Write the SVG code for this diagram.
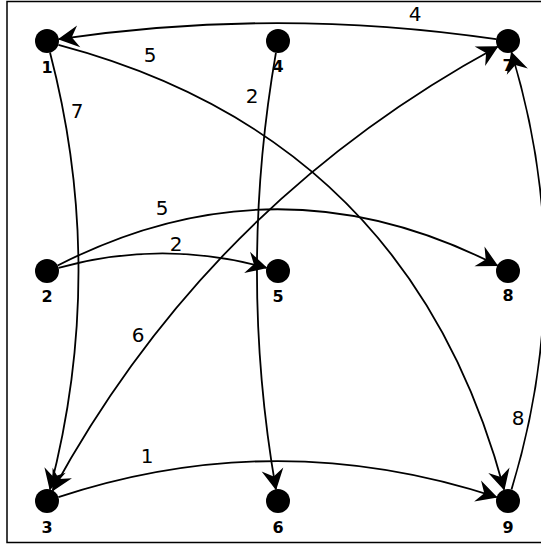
<svg xmlns="http://www.w3.org/2000/svg" width="541" height="545" viewBox="0 0 541 545">
<style>
.frame{fill:none;stroke:#000;stroke-width:1.5}
.node circle{fill:#000}
.node text{font-family:"DejaVu Sans",sans-serif;font-weight:bold;font-size:16px;text-anchor:middle;fill:#000}
.edge{fill:none;stroke:#000;stroke-width:1.8}
.elabel{font-family:"DejaVu Sans",sans-serif;font-size:20px;text-anchor:middle;fill:#000}
</style>
<defs>
<marker id="ah" markerUnits="userSpaceOnUse" orient="auto" markerWidth="26" markerHeight="26" viewBox="-23 -13 26 26" refX="0" refY="0" overflow="visible">
<path d="M1,0 L-20,-11 L-13,0 L-20,11 Z" fill="#000"/>
</marker>
<marker id="as" markerUnits="userSpaceOnUse" orient="auto-start-reverse" markerWidth="26" markerHeight="26" viewBox="-23 -13 26 26" refX="0" refY="0" overflow="visible">
<path d="M1,0 L-20,-11 L-13,0 L-20,11 Z" fill="#000"/>
</marker>
</defs>
<rect class="frame" x="7" y="1.5" width="545" height="541"/>
<g id="edges">
<path class="edge" d="M496.1,39.2 Q277.5,7 58.9,39.2" marker-end="url(#ah)"/>
<path class="edge" d="M58.4,44.9 Q410,138 504.1,489.6" marker-end="url(#ah)"/>
<path class="edge" d="M50,52.6 Q107,271 50,489.4" marker-end="url(#ah)"/>
<path class="edge" d="M275.9,52.8 Q238,271 275.9,489.2" marker-end="url(#ah)"/>
<path class="edge" d="M57.7,265.5 Q277.5,153 497.3,265.5" marker-end="url(#ah)"/>
<path class="edge" d="M58.6,267.8 Q162.5,239 266.4,267.8" marker-end="url(#ah)"/>
<path class="edge" d="M52.7,490.5 Q209.5,203 497.5,46.7" marker-start="url(#as)" marker-end="url(#as)"/>
<path class="edge" d="M511.5,489.5 Q578,271 511.5,52.5" marker-end="url(#ah)"/>
<path class="edge" d="M58.4,497.2 Q277.5,425 496.6,497.2" marker-end="url(#ah)"/>
<text class="elabel" x="415" y="21">4</text>
<text class="elabel" x="150" y="62">5</text>
<text class="elabel" x="77" y="118">7</text>
<text class="elabel" x="252" y="103">2</text>
<text class="elabel" x="162" y="215">5</text>
<text class="elabel" x="176" y="251">2</text>
<text class="elabel" x="138" y="342">6</text>
<text class="elabel" x="147" y="463">1</text>
<text class="elabel" x="518" y="425">8</text>
</g>
<g id="n1" class="node"><circle cx="47" cy="41" r="12"/><text x="47" y="73">1</text></g>
<g id="n4" class="node"><circle cx="278" cy="41" r="12"/><text x="278" y="72">4</text></g>
<g id="n7" class="node"><circle cx="508" cy="41" r="12"/><text x="508" y="71">7</text></g>
<g id="n2" class="node"><circle cx="47" cy="271" r="12"/><text x="47" y="302">2</text></g>
<g id="n5" class="node"><circle cx="278" cy="271" r="12"/><text x="278" y="302">5</text></g>
<g id="n8" class="node"><circle cx="508" cy="271" r="12"/><text x="508" y="301">8</text></g>
<g id="n3" class="node"><circle cx="47" cy="501" r="12"/><text x="47" y="533">3</text></g>
<g id="n6" class="node"><circle cx="278" cy="501" r="12"/><text x="278" y="533">6</text></g>
<g id="n9" class="node"><circle cx="508" cy="501" r="12"/><text x="508" y="533">9</text></g>
</svg>
